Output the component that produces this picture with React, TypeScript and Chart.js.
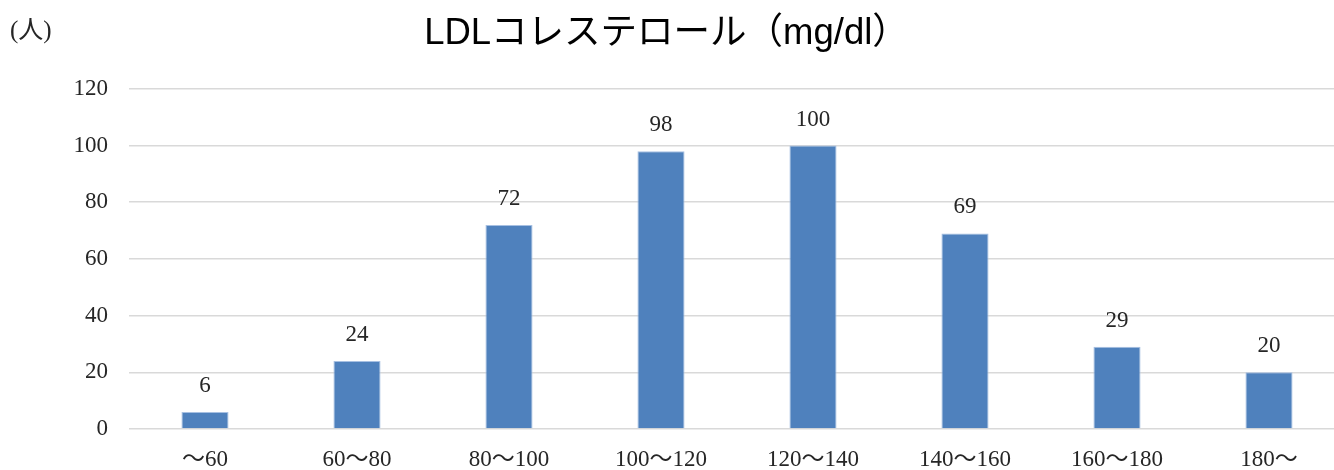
import React, { useEffect, useRef } from "react";
import { Chart, registerables } from "chart.js";

Chart.register(...registerables);

const categories = ["〜60", "60〜80", "80〜100", "100〜120", "120〜140", "140〜160", "160〜180", "180〜"];
const counts = [6, 24, 72, 98, 100, 69, 29, 20];
const yTicks = [0, 20, 40, 60, 80, 100, 120];
const titleText = "LDLコレステロール（mg/dl）";
const unitText = "(人)";

const SERIF = '"Liberation Serif", "Noto Sans CJK JP", serif';

const valueLabels = {
  id: "valueLabels",
  afterDatasetsDraw(chart: any) {
    const ctx = chart.ctx;
    const meta = chart.getDatasetMeta(0);
    ctx.save();
    ctx.font = `23px ${SERIF}`;
    ctx.fillStyle = "#262626";
    ctx.textAlign = "center";
    ctx.textBaseline = "middle";
    meta.data.forEach((bar: any, i: number) => {
      ctx.fillText(String(counts[i]), bar.x, bar.y - 26);
    });
    ctx.restore();
  },
};

export default function App() {
  const ref = useRef<HTMLCanvasElement | null>(null);
  useEffect(() => {
    if (!ref.current) return;
    const chart = new Chart(ref.current, {
      type: "bar",
      data: {
        labels: categories,
        datasets: [
          {
            data: counts,
            backgroundColor: "#4F81BD",
            borderColor: "#A7C0E2",
            borderWidth: 1,
            barPercentage: 0.31,
            categoryPercentage: 1,
          },
        ],
      },
      plugins: [valueLabels],
      options: {
        animation: false,
        responsive: false,
        maintainAspectRatio: false,
        layout: { padding: { left: 0, right: 3, top: 0, bottom: 0 } },
        plugins: {
          legend: { display: false },
          tooltip: { enabled: false },
          title: {
            display: true,
            text: titleText,
            color: "#000000",
            font: { family: '"Liberation Sans", "Noto Sans CJK JP", sans-serif', size: 36.5, weight: "normal", lineHeight: 1.2 },
            padding: { top: 12, bottom: 33 },
          },
        },
        scales: {
          x: {
            grid: { display: false, drawTicks: false },
            border: { display: false },
            ticks: {
              color: "#262626",
              font: { family: SERIF, size: 23 },
              padding: 17,
              maxRotation: 0,
              autoSkip: false,
            },
            afterFit(scale: any) {
              scale.height = 41;
            },
          },
          y: {
            min: 0,
            max: 120,
            afterBuildTicks(scale: any) {
              scale.ticks = yTicks.map((v) => ({ value: v }));
            },
            grid: { color: "#D9D9D9", lineWidth: 1.5, drawTicks: false },
            border: { display: false },
            ticks: {
              color: "#262626",
              font: { family: SERIF, size: 23 },
              padding: 21,
            },
            afterFit(scale: any) {
              scale.width = 141;
            },
          },
        },
      },
    });
    return () => chart.destroy();
  }, []);

  return (
    <div style={{ position: "fixed", left: 0, top: 0, width: 1334, height: 470, overflow: "hidden", background: "#fff" }}>
      <canvas ref={ref} width={1360} height={470} style={{ position: "absolute", left: -12, top: 0, width: 1360, height: 470 }} />
      <div
        style={{
          position: "absolute",
          left: 10,
          top: 15,
          fontFamily: SERIF,
          fontSize: 25,
          color: "#262626",
          lineHeight: "30px",
        }}
      >
        {unitText}
      </div>
    </div>
  );
}
